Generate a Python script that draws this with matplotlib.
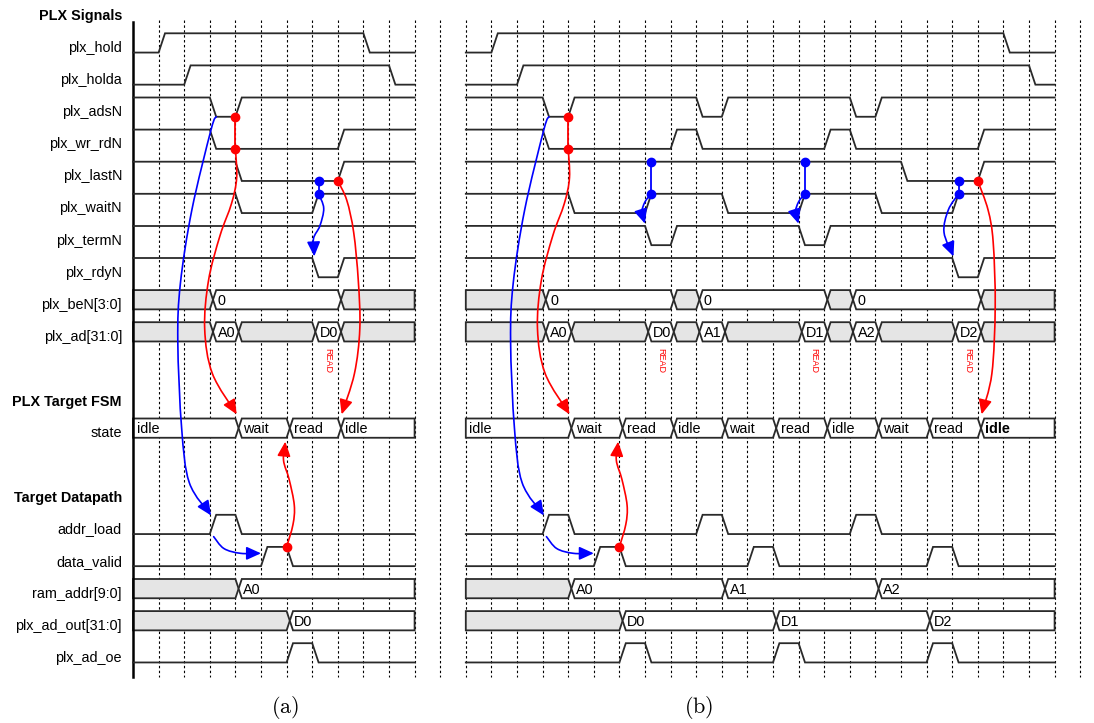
import matplotlib
matplotlib.use('Agg')
import matplotlib.pyplot as plt
import numpy as np
from matplotlib.path import Path
from matplotlib.patches import FancyArrowPatch, Polygon

plt.rcParams['font.family'] = ['Liberation Sans', 'DejaVu Sans']
plt.rcParams['mathtext.fontset'] = 'cm'

# ---------------- data ----------------
section_titles = ['PLX Signals', 'PLX Target FSM', 'Target Datapath']
section_rows = [-1, 11, 14]

signal_labels = ['plx_hold', 'plx_holda', 'plx_adsN', 'plx_wr_rdN', 'plx_lastN',
                 'plx_waitN', 'plx_termN', 'plx_rdyN', 'plx_beN[3:0]', 'plx_ad[31:0]',
                 'state', 'addr_load', 'data_valid', 'ram_addr[9:0]',
                 'plx_ad_out[31:0]', 'plx_ad_oe']
signal_rows = [0, 1, 2, 3, 4, 5, 6, 7, 8, 9, 12, 15, 16, 17, 18, 19]

panel_offsets = [0, 13]
panel_spans = [11, 23]
panel_captions = ['(a)', '(b)']
caption_x = [5.94, 22.1]

# panel (a): (initial level, toggle times)
a_hold = (0, [1, 9])
a_holda = (0, [2, 10])
a_adsN = (1, [3, 4])
a_wr_rdN = (1, [3, 8])
a_lastN = (1, [4, 8])
a_waitN = (1, [4, 7])
a_termN = (1, [])
a_rdyN = (1, [7, 8])
a_beN_starts = [0, 3, 8]
a_beN_values = [None, '0', None]
a_ad_starts = [0, 3, 4, 7, 8]
a_ad_values = [None, 'A0', None, 'D0', None]
a_state_starts = [0, 4, 6, 8]
a_state_values = ['idle', 'wait', 'read', 'idle']
a_addr_load = (0, [3, 4])
a_data_valid = (0, [5, 6])
a_ram_starts = [0, 4]
a_ram_values = [None, 'A0']
a_adout_starts = [0, 6]
a_adout_values = [None, 'D0']
a_ad_oe = (0, [6, 7])
a_read_marks = [7]

# panel (b)
b_hold = (0, [1, 21])
b_holda = (0, [2, 22])
b_adsN = (1, [3, 4, 9, 10, 15, 16])
b_wr_rdN = (1, [3, 8, 9, 14, 15, 20])
b_lastN = (1, [17, 20])
b_waitN = (1, [4, 7, 10, 13, 16, 19])
b_termN = (1, [7, 8, 13, 14])
b_rdyN = (1, [19, 20])
b_beN_starts = [0, 3, 8, 9, 14, 15, 20]
b_beN_values = [None, '0', None, '0', None, '0', None]
b_ad_starts = [0, 3, 4, 7, 8, 9, 10, 13, 14, 15, 16, 19, 20]
b_ad_values = [None, 'A0', None, 'D0', None, 'A1', None, 'D1', None, 'A2', None, 'D2', None]
b_state_starts = [0, 4, 6, 8, 10, 12, 14, 16, 18, 20]
b_state_values = ['idle', 'wait', 'read', 'idle', 'wait', 'read', 'idle', 'wait', 'read', 'idle']
b_addr_load = (0, [3, 4, 9, 10, 15, 16])
b_data_valid = (0, [5, 6, 11, 12, 18, 19])
b_ram_starts = [0, 4, 10, 16]
b_ram_values = [None, 'A0', 'A1', 'A2']
b_adout_starts = [0, 6, 12, 18]
b_adout_values = [None, 'D0', 'D1', 'D2']
b_ad_oe = (0, [6, 7, 12, 13, 18, 19])
b_read_marks = [7, 13, 19]

# causality arrows: waypoints (local time, row units)
arr_ads_to_load = [(3.25, 2.6), (3.05, 3.0), (2.3, 5.5), (1.85, 7.8), (1.75, 9.6),
                   (1.9, 12.3), (2.2, 14.0), (3.05, 15.02)]
arr_load_to_valid = [(3.15, 15.68), (3.55, 16.05), (4.2, 16.2), (5.0, 16.2)]
arr_wr_to_wait = [(4.0, 3.6), (4.05, 4.5), (3.85, 5.3), (3.4, 6.3), (2.95, 7.7),
                  (2.8, 9.2), (3.1, 10.6), (4.05, 11.87)]
arr_valid_to_read = [(6.0, 16.0), (6.25, 15.3), (6.3, 14.7), (6.1, 13.9),
                     (5.88, 13.3), (5.95, 12.72)]
a_last_to_idle = [(8.0, 4.6), (8.35, 5.2), (8.62, 6.2), (8.8, 7.7), (8.86, 9.2),
                  (8.65, 10.6), (8.15, 11.87)]
a_wait_to_rdy = [(7.25, 5.0), (7.45, 5.45), (7.3, 6.0), (7.05, 6.4), (7.08, 6.95)]
b_wait_to_term1 = [(7.25, 5.0), (7.0, 5.25), (6.87, 5.6), (7.0, 5.93)]
b_wait_to_term2 = [(13.25, 5.0), (13.0, 5.25), (12.87, 5.6), (13.0, 5.93)]
b_wait_to_rdy = [(19.25, 5.0), (18.85, 5.5), (18.68, 6.2), (19.05, 6.95)]
b_last_to_idle = [(20.0, 4.6), (20.4, 5.5), (20.6, 6.5), (20.68, 8.5), (20.55, 10.6),
                  (20.15, 11.87)]

# sample points (dots) and links: (time, y0, y1)
red_links = [(4.0, 2.6, 3.6)]
a_blue_links = [(7.25, 4.6, 5.0)]
b_blue_links = [(7.25, 4.0, 5.0), (13.25, 4.0, 5.0), (19.25, 4.6, 5.0)]
a_red_dots = [(8.0, 4.6), (6.0, 16.0)]
b_red_dots = [(20.0, 4.6), (6.0, 16.0)]

# ---------------- layout ----------------
W, H = 1094, 723
PX0, PXU, PY0, PYU = 133.0, 25.6, 33.3, 32.1
LOW = 0.6
EDGE = 0.25
LINE = '#2a2a2a'
GRAY = '#e5e5e5'
FS = 10.4

fig = plt.figure(figsize=(W / 100, H / 100), dpi=100)
ax = fig.add_axes([0, 0, 1, 1])
ax.set_xlim(-PX0 / PXU, (W - PX0) / PXU)
ax.set_ylim((H - PY0) / PYU, -PY0 / PYU)
ax.axis('off')

# grid
for gx in range(1, 38):
    ax.plot([gx, gx], [-0.41, 20.05], color='black', lw=0.8,
            ls=(0, (2.2, 2.2)), zorder=1)
ax.plot([0, 0], [-0.36, 20.05], color='black', lw=1.8, zorder=3)

# labels
for t, r in zip(section_titles, section_rows):
    ax.text(-0.43, r + 0.6, t, ha='right', va='baseline', fontsize=FS,
            fontweight='bold')
for t, r in zip(signal_labels, signal_rows):
    ax.text(-0.43, r + 0.58, t, ha='right', va='baseline', fontsize=FS)


def digital(off, row, sig, span):
    init, toggles = sig
    lv = init
    lev = lambda v: row if v else row + LOW
    xs, ys = [0], [lev(lv)]
    for t in toggles:
        xs += [t, t + EDGE]
        ys += [lev(lv), lev(1 - lv)]
        lv = 1 - lv
    xs.append(span)
    ys.append(lev(lv))
    ax.plot(np.array(xs) + off, ys, color=LINE, lw=1.3, zorder=3,
            solid_joinstyle='miter')


def bus(off, row, starts, values, span, white=False, bold_last=False):
    top, bot, mid = row, row + LOW, row + LOW / 2
    n = len(starts)
    for i, (s, v) in enumerate(zip(starts, values)):
        e = starts[i + 1] if i + 1 < n else span
        if i == 0:
            left = [(s, bot), (s, top)]
        else:
            left = [(s + EDGE, bot), (s + EDGE / 2, mid), (s + EDGE, top)]
        if i == n - 1:
            right = [(e, top), (e, bot)]
        else:
            right = [(e, top), (e + EDGE / 2, mid), (e, bot)]
        pts = [(x + off, y) for x, y in left + right]
        fc = 'white' if (white or v is not None) else GRAY
        ax.add_patch(Polygon(pts, closed=True, fc=fc, ec=LINE, lw=1.3, zorder=2,
                             joinstyle='miter'))
        if v is not None:
            tx = s + (0.14 if i == 0 else EDGE + 0.05)
            fw = 'bold' if (bold_last and i == n - 1) else 'normal'
            ax.text(tx + off, row + 0.46, v, ha='left', va='baseline',
                    fontsize=FS, fontweight=fw, zorder=4)


def catmull(points, off):
    P = np.array(points, float)
    P[:, 0] += off
    ext = np.vstack([P[0], P, P[-1]])
    verts, codes = [P[0]], [Path.MOVETO]
    for i in range(len(P) - 1):
        p0, p1, p2, p3 = ext[i], ext[i + 1], ext[i + 2], ext[i + 3]
        verts += [p1 + (p2 - p0) / 6, p2 - (p3 - p1) / 6, p2]
        codes += [Path.CURVE4] * 3
    return Path(np.array(verts), codes)


def arrow(points, off, color):
    ax.add_patch(FancyArrowPatch(path=catmull(points, off),
                                 arrowstyle='-|>,head_length=0.55,head_width=0.25',
                                 mutation_scale=16, color=color, lw=1.2, zorder=6))


panels = [
    dict(hold=a_hold, holda=a_holda, adsN=a_adsN, wr=a_wr_rdN, last=a_lastN,
         wait=a_waitN, term=a_termN, rdy=a_rdyN, be=(a_beN_starts, a_beN_values),
         ad=(a_ad_starts, a_ad_values), st=(a_state_starts, a_state_values),
         load=a_addr_load, valid=a_data_valid, ram=(a_ram_starts, a_ram_values),
         out=(a_adout_starts, a_adout_values), oe=a_ad_oe, reads=a_read_marks),
    dict(hold=b_hold, holda=b_holda, adsN=b_adsN, wr=b_wr_rdN, last=b_lastN,
         wait=b_waitN, term=b_termN, rdy=b_rdyN, be=(b_beN_starts, b_beN_values),
         ad=(b_ad_starts, b_ad_values), st=(b_state_starts, b_state_values),
         load=b_addr_load, valid=b_data_valid, ram=(b_ram_starts, b_ram_values),
         out=(b_adout_starts, b_adout_values), oe=b_ad_oe, reads=b_read_marks),
]

for k, p in enumerate(panels):
    off, span = panel_offsets[k], panel_spans[k]
    for key, row in [('hold', 0), ('holda', 1), ('adsN', 2), ('wr', 3), ('last', 4),
                     ('wait', 5), ('term', 6), ('rdy', 7), ('load', 15),
                     ('valid', 16), ('oe', 19)]:
        digital(off, row, p[key], span)
    bus(off, 8, *p['be'], span)
    bus(off, 9, *p['ad'], span)
    bus(off, 12, *p['st'], span, white=True, bold_last=(k == 1))
    bus(off, 17, *p['ram'], span)
    bus(off, 18, *p['out'], span)
    for t in p['reads']:
        ax.text(off + t + 0.6, 10.2, 'READ', rotation=-90, color='red',
                fontsize=6.5, ha='center', va='center')
    ax.text(caption_x[k], 21.0, r'$\mathrm{' + panel_captions[k] + '}$',
            ha='center', va='center', fontsize=16)

    # common arrows for first transaction
    arrow(arr_ads_to_load, off, 'blue')
    arrow(arr_load_to_valid, off, 'blue')
    arrow(arr_wr_to_wait, off, 'red')
    arrow(arr_valid_to_read, off, 'red')
    for t, y0, y1 in red_links:
        ax.plot([t + off, t + off], [y0, y1], color='red', lw=1.3, zorder=6)
        ax.plot([t + off, t + off], [y0, y1], 'o', color='red', ms=6, zorder=7)

# panel specific arrows
arrow(a_last_to_idle, 0, 'red')
arrow(a_wait_to_rdy, 0, 'blue')
for pts in (b_wait_to_term1, b_wait_to_term2, b_wait_to_rdy):
    arrow(pts, 13, 'blue')
arrow(b_last_to_idle, 13, 'red')

for off, links in ((0, a_blue_links), (13, b_blue_links)):
    for t, y0, y1 in links:
        ax.plot([t + off, t + off], [y0, y1], color='blue', lw=1.3, zorder=6)
        ax.plot([t + off, t + off], [y0, y1], 'o', color='blue', ms=6, zorder=7)
for off, dots in ((0, a_red_dots), (13, b_red_dots)):
    for t, y in dots:
        ax.plot([t + off], [y], 'o', color='red', ms=6, zorder=7)

fig.savefig('out.png', dpi=100)
